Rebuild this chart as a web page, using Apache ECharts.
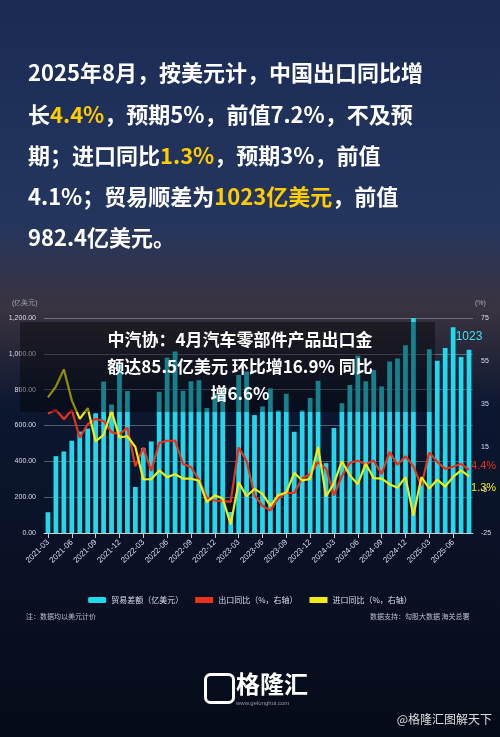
<!DOCTYPE html><html><head><meta charset="utf-8"><script src="https://cdn.jsdelivr.net/npm/echarts@6/dist/echarts.min.js"></script>
<style>html,body{margin:0;padding:0;background:#0a1326}#c{width:500px;height:737px}</style></head><body><div id="c"></div><script>
const months=[];for(let y=2021;y<=2025;y++)for(let m=1;m<=12;m++){if(y===2021&&m<3)continue;if(y===2025&&m>8)continue;months.push(y+'-'+String(m).padStart(2,'0'));}
const balance=[116,429,455,515,566,583,668,845,717,944,792,257,474,511,788,979,1013,794,847,852,698,780,800,117,882,902,658,706,806,684,777,565,684,753,850,390,586,724,826,990,847,910,817,957,974,1048,1200,300,1026,962,1032,1148,982,1023];
const exportYoY=[30.6,32.3,27.9,32.2,19.3,25.6,28.1,27.1,21.9,20.9,24,6,14.7,3.9,16.9,17.9,18,7.1,5.7,-0.3,-8.7,-9.9,-10,-10.5,14.8,8.5,-7.5,-12.4,-14.5,-8.8,-6.2,-6.4,0.5,2.3,8,5,-7.5,1.5,7.6,8.6,7,8.7,2.4,12.7,6.7,10.7,6,-3,12.4,8.1,4.8,5.8,7.2,4.4];
const importYoY=[38.1,43.1,51.1,36.7,28.1,33.1,17.6,20.6,31.7,19.5,20,15,-0.1,0,4.1,1,2.3,0.3,0.3,-0.7,-10.6,-7.5,-9,-21,-1.4,-7.9,-4.5,-6.8,-12.4,-7.3,-6.2,3,-0.6,0.2,15,-8,-1.9,8.4,1.8,-2.3,7.2,0.5,0.3,-2.3,-3.9,1,-17,1,-4.3,-0.2,-3.4,1.1,4.1,1.3];
const leftTicks=[0,200,400,600,800,1000,1200];
const rightTicks=[-25,-5,15,35,55,75];
const chart=echarts.init(document.getElementById('c'));
const W='#ffffff';
function line(parts,y){let s='';parts.forEach(p=>{s+='{'+(p[1]?'h':'n')+'|'+p[0]+'}';});
 return {type:'text',left:28,top:y,style:{text:s,rich:{n:{fill:W,fontSize:22,fontFamily:'Noto Sans CJK SC',fontWeight:'bold'},h:{fill:'#ffcc00',fontSize:22,fontFamily:'Noto Sans CJK SC',fontWeight:'bold'}}}};}
chart.setOption({
 backgroundColor:{type:'linear',x:0,y:0,x2:0,y2:1,colorStops:[{offset:0,color:'#1a2a55'},{offset:0.3,color:'#24365e'},{offset:0.42,color:'#3a3340'},{offset:0.55,color:'#0c1730'},{offset:1,color:'#050b18'}]},
 graphic:[
  line([['2025年8月，按美元计，中国出口同比增']],62),
  line([['长'],['4.4%',1],['，预期5%，前值7.2%，不及预']],104),
  line([['期；进口同比'],['1.3%',1],['，预期3%，前值']],145),
  line([['4.1%；贸易顺差为'],['1023亿美元',1],['，前值']],186),
  line([['982.4亿美元。']],227),
  {type:'rect',left:20,top:322,z:100,shape:{width:415,height:90},style:{fill:'rgba(0,0,0,0.4)'}},
  {type:'text',x:240,y:326,z:101,style:{text:'中汽协：4月汽车零部件产品出口金\n额达85.5亿美元 环比增16.9% 同比\n增6.6%',fill:W,fontSize:17,fontWeight:'bold',fontFamily:'Noto Sans CJK SC',textAlign:'center',lineHeight:27}},
  {type:'text',left:12,top:300,style:{text:'(亿美元)',fill:'#aab',fontSize:7}},
  {type:'text',left:475,top:300,style:{text:'(%)',fill:'#aab',fontSize:7}},
  {type:'text',left:26,top:613,style:{text:'注：数据均以美元计价',fill:'#bbc',fontSize:7,fontFamily:'Noto Sans CJK SC'}},
  {type:'text',left:370,top:613,style:{text:'数据支持：勾股大数据 海关总署',fill:'#bbc',fontSize:7,fontFamily:'Noto Sans CJK SC'}},
  {type:'rect',left:203,top:672,shape:{width:28,height:28,r:5},style:{fill:'none',stroke:W,lineWidth:3}},
  {type:'text',left:236,top:672,style:{text:'格隆汇',fill:W,fontSize:24,fontWeight:'bold',fontFamily:'Noto Sans CJK SC'}},
  {type:'text',left:236,top:700,style:{text:'www.gelonghui.com',fill:'#99a',fontSize:6}},
  {type:'text',right:8,top:713,style:{text:'@格隆汇图解天下',fill:'#ddd',fontSize:12,fontFamily:'Noto Sans CJK SC'}}
 ],
 grid:{left:44,right:27,top:318,bottom:204},
 legend:{bottom:128,left:'center',itemWidth:18,itemHeight:6,itemGap:12,textStyle:{color:'#dde',fontSize:8,fontFamily:'Noto Sans CJK SC'},data:[{name:'贸易差额（亿美元）'},{name:'出口同比（%，右轴）',icon:'rect'},{name:'进口同比（%，右轴）',icon:'rect'}]},
 xAxis:{type:'category',data:months,axisLine:{lineStyle:{color:'#ccc'}},axisTick:{show:true,alignWithLabel:true,interval:2,lineStyle:{color:'#ccc'}},axisLabel:{interval:2,rotate:45,color:'#dde',fontSize:8}},
 yAxis:[{type:'value',min:0,max:1200,interval:200,splitLine:{show:true,lineStyle:{color:'rgba(255,255,255,0.5)',width:0.6}},axisLabel:{color:'#dde',fontSize:7,formatter:v=>v.toLocaleString('en-US',{minimumFractionDigits:2})}},
  {type:'value',min:-25,max:75,interval:20,splitLine:{show:false},axisLabel:{color:'#dde',fontSize:7}}],
 series:[
  {name:'贸易差额（亿美元）',type:'bar',data:balance.map((v,i)=>i===balance.length-1?{value:v,label:{show:true,position:'top',color:'#3fe3f5',fontSize:12,offset:[0,-2]}}:v),itemStyle:{color:'#22d8ec'},barWidth:'60%'},
  {name:'出口同比（%，右轴）',type:'line',yAxisIndex:1,data:exportYoY,symbol:'none',lineStyle:{color:'#e8321c',width:2.2},itemStyle:{color:'#e8321c'},endLabel:{show:true,formatter:'{c}%',color:'#e8321c',fontSize:11,offset:[-6,-4]}},
  {name:'进口同比（%，右轴）',type:'line',yAxisIndex:1,data:importYoY,symbol:'none',lineStyle:{color:'#f2ea16',width:2.2},itemStyle:{color:'#f2ea16'},endLabel:{show:true,formatter:'{c}%',color:'#f2ea16',fontSize:11,offset:[-6,12]}}
 ]
});
</script></body></html>
